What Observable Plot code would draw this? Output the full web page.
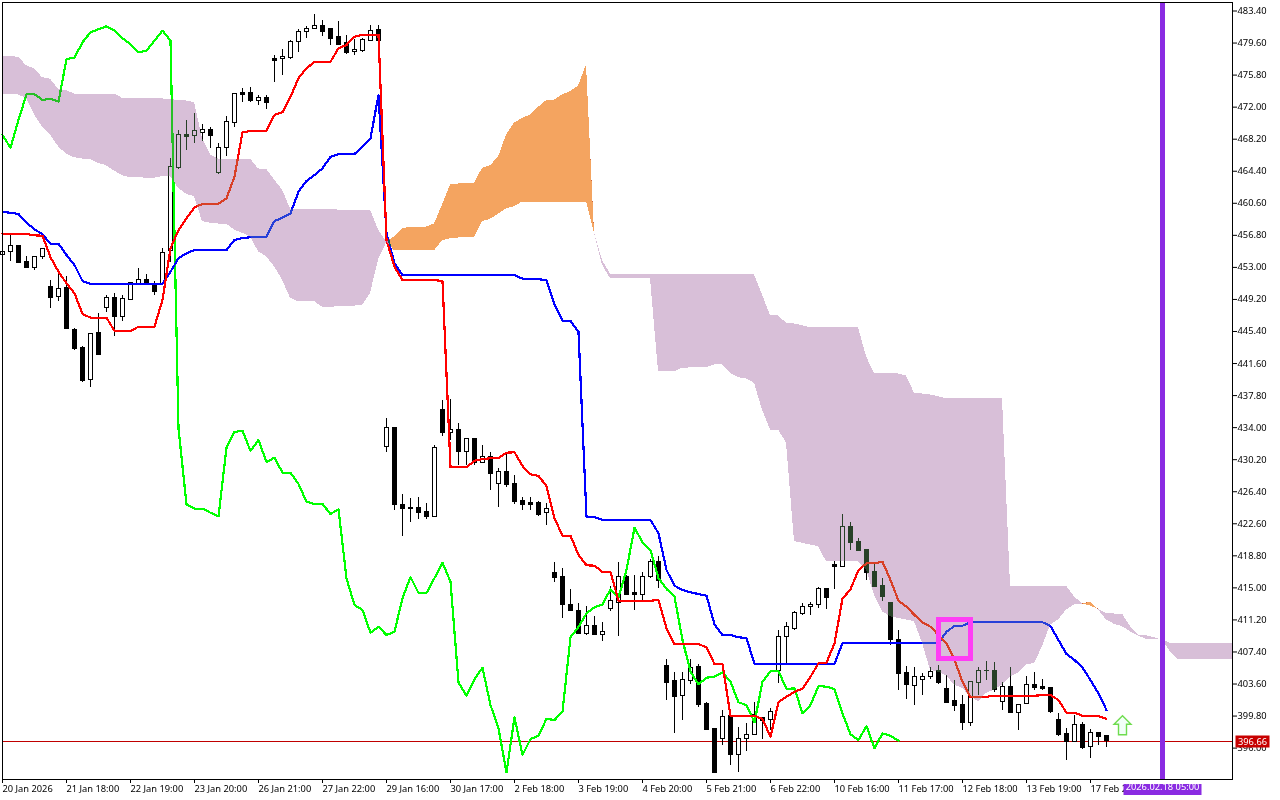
<!DOCTYPE html>
<html>
<head>
<meta charset="utf-8">
<title>Ichimoku chart</title>
<script src="https://cdn.jsdelivr.net/npm/d3@7"></script>
<script src="https://cdn.jsdelivr.net/npm/@observablehq/plot@0.6"></script>
<style>html,body{margin:0;padding:0;background:#fff;overflow:hidden}</style>
</head>
<body>
<script>
const opens = [
454.35,454.67,455.42,453.48,452.84,454.08,450.52,449.33,450.40,445.46,
443.29,439.50,445.07,448.04,449.25,446.97,449.05,450.94,451.35,450.91,
450.91,454.82,464.70,468.58,468.50,468.85,469.17,464.04,467.00,469.97,
473.53,473.53,472.65,472.97,477.56,477.56,477.71,479.57,480.76,481.12,
481.51,481.12,480.17,479.46,478.39,478.58,479.76,481.00,431.62,433.80,
424.71,424.35,424.35,423.88,423.32,435.97,433.28,433.60,431.03,432.50,
429.72,430.37,427.23,428.59,427.20,425.15,424.91,424.91,423.72,416.61,
416.13,412.88,412.10,409.44,410.32,409.25,412.41,413.12,416.21,414.27,
414.07,416.21,417.91,405.61,403.84,402.09,403.84,405.53,401.07,398.11,
396.92,399.68,395.02,396.92,397.39,399.41,399.21,405.06,409.09,410.04,
411.82,412.57,412.88,414.71,417.56,417.39,422.06,420.28,419.37,416.76,
415.10,413.08,408.70,404.78,403.28,403.99,404.35,404.99,402.89,401.43,
400.99,398.89,403.56,404.99,405.02,401.38,403.09,400.07,401.07,403.33,
403.09,402.97,399.21,397.51,396.64,398.58,395.97,397.63,397.27];
const highs = [
454.82,456.80,455.50,454.23,454.23,455.14,451.38,451.98,451.86,445.67,
443.48,445.07,447.44,449.49,449.81,449.49,451.11,452.77,451.98,451.18,
455.14,465.85,469.17,470.28,471.07,469.88,469.49,467.60,470.83,473.44,
474.04,474.24,473.32,473.21,477.95,478.74,479.76,481.03,481.42,482.81,
482.10,481.15,481.98,480.32,479.93,480.05,481.59,481.51,434.99,433.80,
426.01,425.42,425.54,424.83,431.71,437.04,437.16,434.40,432.50,432.62,
431.82,430.91,429.06,430.64,428.15,425.62,425.62,425.10,424.91,417.91,
417.12,414.63,413.05,412.73,411.54,410.83,415.10,417.91,416.29,416.29,
416.68,418.27,418.58,406.41,404.90,404.90,406.33,405.77,401.31,398.22,
400.31,399.80,398.34,398.82,401.31,399.41,400.60,409.88,410.80,412.05,
412.97,413.12,414.90,414.83,417.98,423.64,422.66,420.76,419.45,417.71,
416.02,413.12,409.88,405.52,405.48,404.67,405.46,405.65,404.55,403.84,
402.17,403.75,405.48,406.21,406.05,403.68,405.41,400.99,404.35,404.87,
404.07,403.01,400.00,398.22,399.80,398.89,398.11,397.75,397.43];
const lows = [
454.12,453.55,453.31,452.77,452.49,453.76,448.04,448.82,445.55,443.01,
439.26,438.62,442.50,447.51,444.67,446.45,449.02,450.90,450.87,449.60,
450.85,453.52,464.43,466.80,467.60,467.79,466.92,463.84,466.01,469.45,
472.41,472.41,472.02,471.55,474.78,475.58,477.56,478.34,480.05,481.10,
480.24,479.25,479.25,478.07,477.95,478.34,479.65,479.65,430.91,424.03,
420.95,422.61,422.93,423.01,423.25,432.81,432.33,429.45,429.45,429.45,
429.70,426.40,424.39,426.76,424.71,424.11,424.11,423.40,422.22,415.49,
411.22,412.05,409.41,409.29,409.20,408.50,412.05,409.17,414.00,412.25,
413.44,416.02,414.75,401.50,397.63,399.13,403.48,400.71,397.94,392.89,
396.24,393.87,392.96,395.45,397.34,396.96,398.02,403.60,405.93,409.88,
411.66,411.66,412.46,412.37,414.63,417.35,419.37,419.17,415.81,415.00,
413.32,408.02,402.77,401.70,400.90,402.17,404.07,403.44,401.19,400.19,
397.94,398.41,402.17,403.84,402.49,400.31,400.00,397.94,401.07,402.77,
402.68,400.00,397.31,394.47,396.64,395.73,394.67,396.24,395.92];
const closes = [
454.70,455.38,453.36,452.84,454.08,455.02,449.28,450.28,445.62,443.25,
439.45,444.95,442.53,449.21,446.97,449.10,450.99,451.35,450.91,450.00,
454.55,464.79,468.58,468.38,469.02,469.17,468.46,467.00,470.09,473.41,
473.36,472.65,472.93,472.41,477.39,477.80,479.57,480.76,481.12,481.47,
480.83,480.00,479.29,478.34,478.63,479.81,480.95,479.76,433.80,424.71,
424.20,424.20,423.79,423.32,431.43,433.28,433.60,431.03,432.50,429.72,
430.37,428.39,428.59,427.08,425.10,424.74,424.74,423.56,424.20,416.09,
412.88,412.14,409.44,410.32,409.25,409.68,413.29,416.21,414.07,414.07,
416.21,417.91,415.66,403.63,401.97,403.92,405.41,401.02,398.02,392.96,
399.53,395.02,396.92,397.39,399.80,399.13,400.19,409.02,410.20,411.86,
412.57,412.88,414.71,413.71,417.39,422.06,420.24,419.25,416.68,415.02,
413.83,408.70,404.70,403.36,404.33,404.35,404.87,403.63,401.19,400.87,
398.89,403.68,405.02,405.06,402.77,403.09,400.00,400.95,403.33,402.97,
402.85,400.19,397.47,396.64,398.58,395.85,397.63,397.23,396.69];
const tenkan = [
456.87,456.84,456.84,456.84,456.68,456.64,454.08,452.37,450.99,449.81,
447.36,446.92,446.92,446.92,445.34,445.34,445.34,445.85,445.85,445.85,
449.02,455.14,457.31,458.70,460.00,460.40,460.40,460.43,461.07,463.64,
468.90,469.05,469.05,469.09,470.95,471.27,473.12,475.31,476.49,477.24,
477.24,477.27,478.86,479.25,480.24,480.44,480.48,480.48,456.13,452.96,
451.38,451.38,451.38,451.38,451.38,451.27,429.18,429.18,429.18,429.96,
430.16,430.25,430.25,430.91,430.96,429.33,428.35,428.15,426.96,423.13,
421.07,421.07,418.78,417.56,417.51,416.76,416.76,413.36,413.36,413.36,
413.36,413.36,413.44,410.08,408.22,408.22,408.22,408.22,407.83,405.85,
405.85,399.72,399.72,399.72,399.72,399.33,397.23,401.34,401.97,402.57,
402.92,404.35,405.93,406.01,408.31,413.60,414.71,417.00,417.79,417.79,
417.98,415.81,413.36,412.65,411.66,410.80,410.27,409.29,408.31,406.33,
403.75,401.90,401.90,401.97,402.09,402.09,402.09,402.09,402.09,402.09,
402.17,402.17,401.58,400.07,400.07,399.72,399.68,399.68,399.33];
const kijun = [
459.45,459.36,459.21,458.18,457.40,456.80,455.69,455.69,454.35,453.16,
451.27,450.91,450.91,450.91,450.91,450.91,450.91,450.91,450.91,450.91,
450.91,452.37,453.96,454.55,454.94,454.94,454.94,454.94,454.94,456.13,
456.37,456.45,456.52,456.52,458.38,458.77,459.29,461.86,463.13,463.84,
464.63,466.01,466.29,466.33,466.33,467.19,468.19,473.32,456.92,453.36,
451.98,451.98,451.98,451.98,451.98,451.98,451.98,451.98,451.98,451.98,
451.98,451.98,451.98,451.98,451.98,451.54,451.50,451.47,451.38,448.43,
446.57,446.53,445.23,423.32,423.25,422.93,422.93,422.93,422.93,422.93,
422.93,422.93,421.35,417.00,415.14,414.63,414.35,414.15,413.95,410.56,
409.29,409.29,409.02,408.94,405.85,405.85,405.85,405.87,405.87,405.87,
405.87,405.87,405.87,405.87,405.87,408.34,408.34,408.34,408.34,408.34,
408.34,408.34,408.34,408.34,408.34,408.34,408.34,408.34,409.68,410.36,
410.39,410.80,410.80,410.80,410.80,410.80,410.80,410.80,410.80,410.80,
410.80,410.36,408.70,407.04,406.33,405.41,403.95,402.38,400.39];
const chikou = [
468.58,467.07,470.36,473.41,473.41,472.73,472.89,472.53,477.59,477.75,
479.57,480.76,481.12,481.47,480.95,480.05,479.34,478.39,478.58,479.76,
480.95,479.76,433.80,424.79,424.27,424.27,423.79,423.37,431.50,433.37,
433.52,431.11,432.42,429.81,430.32,428.54,428.54,427.20,425.10,424.83,
424.83,423.64,424.20,416.02,412.85,412.25,409.56,410.27,409.29,409.68,
413.68,416.17,414.27,414.27,416.05,417.87,415.61,403.68,402.06,404.07,
405.41,400.99,398.22,393.01,399.53,395.06,396.96,397.35,399.36,399.21,
400.19,409.02,410.27,411.86,412.57,412.93,414.71,413.76,417.00,422.02,
420.28,419.37,416.02,414.75,413.83,408.70,404.94,403.44,404.23,404.35,
404.87,403.75,401.31,400.99,398.94,403.75,405.02,405.02,402.89,402.97,
400.00,400.99,403.24,403.16,402.89,400.00,397.51,396.84,398.50,395.85,
397.63,397.35,396.75];
const spanA = [
473.44,473.41,473.32,472.93,470.95,469.56,468.58,467.19,466.29,465.89,
465.73,465.70,465.22,464.94,464.31,463.75,463.52,463.52,463.45,463.45,
463.64,463.64,462.26,461.55,461.26,458.30,458.11,458.02,458.02,457.31,
456.92,456.52,454.74,454.15,452.96,451.38,449.22,448.82,448.82,448.82,
448.15,448.15,448.22,448.24,448.30,448.33,449.81,453.76,455.78,456.52,
457.43,457.67,457.67,457.67,458.02,460.28,462.65,462.77,462.77,462.85,
464.63,464.94,465.94,468.58,469.97,470.56,470.95,471.86,472.65,472.73,
473.32,473.72,474.39,476.88,456.84,453.16,451.54,451.54,451.54,451.54,
451.54,451.54,440.52,440.52,440.52,440.92,440.96,440.96,441.00,441.31,
441.31,440.33,439.81,439.65,439.14,435.97,433.60,433.60,432.06,420.36,
420.17,419.96,419.76,417.98,417.98,417.98,417.98,417.98,417.00,414.03,
412.05,411.46,411.27,411.07,410.87,408.31,405.14,404.87,404.43,403.36,
402.97,401.97,401.38,402.38,402.77,403.36,404.35,404.75,405.73,405.93,
407.90,410.48,411.07,412.25,412.85,412.93,413.20,412.25,411.07,410.56,
410.27,409.68,409.17,408.78,408.82,408.70,407.30,406.33,406.33,406.33,
406.33,406.33,406.33,406.33,406.33];
const spanB = [
477.87,477.87,477.80,476.80,476.41,475.38,475.19,474.00,473.83,473.44,
473.44,473.44,473.44,473.44,473.44,472.93,472.85,472.85,472.85,472.85,
472.85,472.82,472.65,472.61,472.41,468.19,466.21,465.73,465.73,465.73,
465.73,465.73,464.55,464.51,463.25,462.06,459.80,459.76,459.76,459.76,
459.76,459.76,459.68,459.68,459.68,459.68,459.68,457.31,455.89,454.86,
454.86,454.86,454.86,454.86,454.86,456.04,456.28,456.37,456.37,456.40,
458.30,458.58,459.21,459.80,460.08,460.63,460.63,460.63,460.63,460.63,
460.63,460.63,460.63,460.63,456.96,453.68,452.10,451.98,451.98,451.98,
451.98,451.98,451.98,451.98,451.98,451.98,451.98,451.98,451.98,451.98,
451.98,451.98,451.98,451.98,451.98,449.60,447.16,447.12,446.26,446.17,
445.97,445.70,445.70,445.70,445.70,445.70,445.70,445.70,442.30,440.25,
440.25,440.25,440.25,440.01,437.96,437.87,437.75,437.55,437.28,437.28,
437.28,437.28,437.28,437.28,437.28,437.28,415.10,415.10,415.10,415.10,
415.10,415.10,415.10,415.10,413.83,412.97,412.73,412.33,411.86,411.78,
411.78,410.27,409.29,409.21,408.97,408.70,408.31,408.31,408.31,408.31,
408.31,408.31,408.31,408.31,408.31];
const priceTicks = [483.4,479.6,475.8,472,468.2,464.4,460.6,456.8,453,449.2,445.4,441.6,437.8,434,430.2,426.4,422.6,418.8,415,411.2,407.4,403.6,399.8,396];
const timeTickIndex = [0,8,16,24,32,40,48,56,64,72,80,88,96,104,112,120,128,136];
const timeTickLabels = ["20 Jan 2026","21 Jan 18:00","22 Jan 19:00","23 Jan 20:00","26 Jan 21:00","27 Jan 22:00","29 Jan 16:00","30 Jan 17:00","2 Feb 18:00","3 Feb 19:00","4 Feb 20:00","5 Feb 21:00","6 Feb 22:00","10 Feb 16:00","11 Feb 17:00","12 Feb 18:00","13 Feb 19:00","17 Feb 20:00"];
const lastPrice = 396.66;
const currentTimeIndex = 145;
const currentTimeLabel = "2026.02.18 05:00";
const boxIndex = [117, 121];
const boxPrice = [406.5, 411.07];
const arrowIndex = 140;
const arrowPrice = 398.59;
const xEnd = 153.75;

const candles = opens.map((o, i) => ({i, o, h: highs[i], l: lows[i], c: closes[i]}));
const upCandles = candles.filter(d => d.c >= d.o);
const downCandles = candles.filter(d => d.c < d.o);
const series = a => a.map((v, i) => ({i, v}));
const cloud = spanA.map((a, i) => ({i, a, b: spanB[i], top: Math.max(a, spanB[i])}));

const rectSymbol = (w, h) => ({draw(c) { c.moveTo(-w/2,-h/2); c.lineTo(w/2,-h/2); c.lineTo(w/2,h/2); c.lineTo(-w/2,h/2); c.closePath(); }});
const arrowSymbol = {draw(c) {
  c.moveTo(0,-9.5); c.lineTo(8.5,-1); c.lineTo(4,-1); c.lineTo(4,9.5);
  c.lineTo(-4,9.5); c.lineTo(-4,-1); c.lineTo(-8.5,-1); c.closePath();
}};
const crisp = {shapeRendering: "crispEdges"};
const lineOpts = (stroke) => ({x: "i", y: "v", stroke, strokeWidth: 2.2, curve: "linear", ...crisp});
const bw = 0.25;
const cloudX = d => Math.min(d.i, xEnd);

const chart = Plot.plot({
  width: 1280, height: 800,
  marginLeft: 2, marginRight: 48, marginTop: 2, marginBottom: 21,
  style: {fontFamily: "'Noto Sans', sans-serif", fontSize: "9.3px", background: "white", color: "black"},
  x: {type: "linear", domain: [0, xEnd]},
  y: {type: "linear", domain: [392.16, 484.29]},
  marks: [
    Plot.frame({fill: "white", stroke: "none"}),
    Plot.axisX({ticks: timeTickIndex, tickFormat: i => timeTickLabels[timeTickIndex.indexOf(i)], textAnchor: "start", tickSize: 4, tickPadding: 2, label: null, anchor: "bottom", stroke: "black", fill: "black", strokeOpacity: 1}),
    Plot.axisY({ticks: priceTicks, tickFormat: d => d.toFixed(2), anchor: "right", tickSize: 4, tickPadding: 1, label: null, stroke: "black", fill: "black", strokeOpacity: 1, dy: 1}),
    Plot.ruleY([lastPrice], {stroke: "#c00000", strokeWidth: 1, ...crisp}),
    Plot.ruleX(candles, {x: "i", y1: "l", y2: "h", stroke: "black", strokeWidth: 1, ...crisp}),
    Plot.rect(upCandles, {x1: d => d.i - bw, x2: d => d.i + bw, y1: "o", y2: "c", fill: "white", stroke: "black", strokeWidth: 1, ...crisp}),
    Plot.rect(downCandles, {x1: d => d.i - bw, x2: d => d.i + bw, y1: "o", y2: "c", fill: "black", stroke: "black", strokeWidth: 1, ...crisp}),
    Plot.line(series(chikou), lineOpts("#00ff00")),
    Plot.line(series(kijun), lineOpts("#0000ff")),
    Plot.line(series(tenkan), lineOpts("#ff0000")),
    Plot.areaY(cloud, {x: cloudX, y1: "a", y2: "top", fill: "#274027", mixBlendMode: "difference", curve: "linear", ...crisp}),
    Plot.areaY(cloud, {x: cloudX, y1: "b", y2: "top", fill: "#0b5b9f", mixBlendMode: "difference", curve: "linear", ...crisp}),
    Plot.ruleX([currentTimeIndex], {stroke: "#8a2be2", strokeWidth: 5, ...crisp}),
    Plot.rect([0], {x1: () => boxIndex[0], x2: () => boxIndex[1], y1: () => boxPrice[0], y2: () => boxPrice[1], fill: "none", stroke: "#ff3df5", strokeWidth: 5, ...crisp}),
    Plot.dot([0], {x: () => arrowIndex, y: () => arrowPrice, symbol: arrowSymbol, fill: "#f2fff8", stroke: "#6fdc4f", strokeWidth: 1.4}),
    Plot.frame({stroke: "black", fill: "none"}),
    Plot.dot([lastPrice], {y: d => d, frameAnchor: "right", dx: 20, symbol: rectSymbol(34, 12), fill: "#c80000", stroke: "none"}),
    Plot.text([lastPrice], {y: d => d, text: d => d.toFixed(2), frameAnchor: "right", dx: 20, textAnchor: "middle", fill: "white", fontSize: 9.3}),
    Plot.dot([currentTimeIndex], {x: d => d, frameAnchor: "bottom", dy: 10, symbol: rectSymbol(78, 11), fill: "#8a2be2", stroke: "none"}),
    Plot.text([currentTimeLabel], {x: () => currentTimeIndex, frameAnchor: "bottom", dy: 10, textAnchor: "middle", fill: "white", fontSize: 9.3})
  ]
});
document.body.append(chart);
</script>
</body>
</html>
